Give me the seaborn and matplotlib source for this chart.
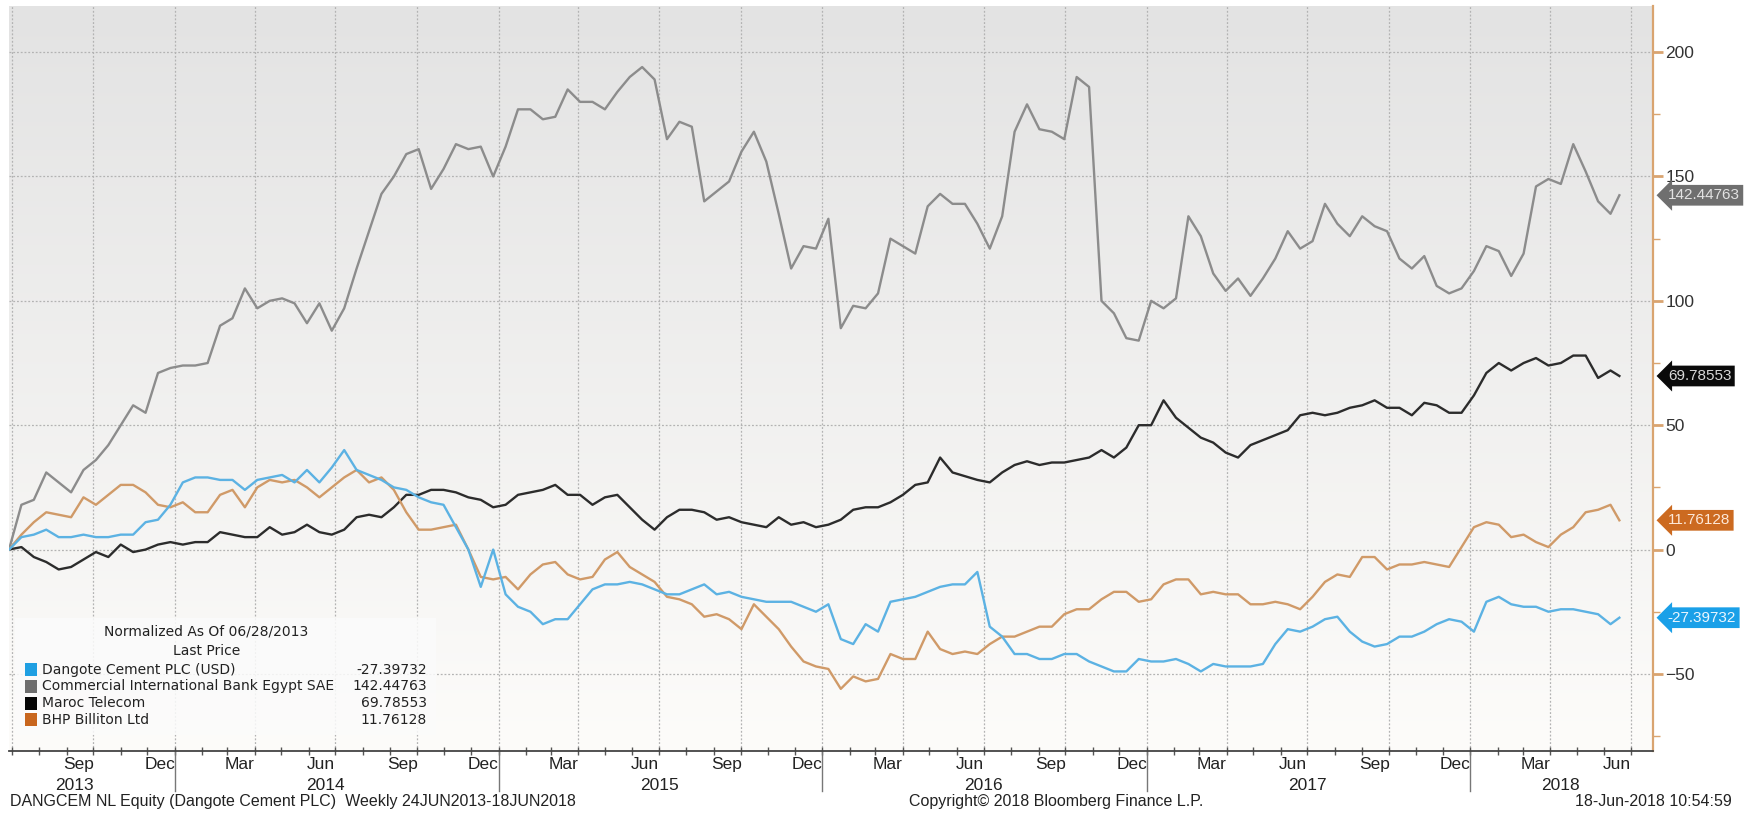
import matplotlib
matplotlib.use('Agg')
import matplotlib.pyplot as plt
import matplotlib.dates as mdates
import matplotlib.transforms as mtransforms
from matplotlib.colors import LinearSegmentedColormap
from matplotlib.patches import Rectangle
import numpy as np
import pandas as pd
import seaborn as sns

# series names and last values (legend order)
series_names = ['Dangote Cement PLC (USD)', 'Commercial International Bank Egypt SAE',
                'Maroc Telecom', 'BHP Billiton Ltd']
last_values = [-27.39732, 142.44763, 69.78553, 11.76128]

# normalized values, every two weeks from 28 Jun 2013, last point 18 Jun 2018
dangote = [0, 5, 6, 8, 5, 5, 6, 5, 5, 6, 6, 11, 12, 18, 27, 29, 29, 28, 28, 24,
           28, 29, 30, 27, 32, 27, 33, 40, 32, 30, 28, 25, 24, 21, 19, 18, 9, 0, -15, 0,
           -18, -23, -25, -30, -28, -28, -22, -16, -14, -14, -13, -14, -16, -18, -18, -16, -14, -18, -17, -19,
           -20, -21, -21, -21, -23, -25, -22, -36, -38, -30, -33, -21, -20, -19, -17, -15, -14, -14, -9, -31,
           -35, -42, -42, -44, -44, -42, -42, -45, -47, -49, -49, -44, -45, -45, -44, -46, -49, -46, -47, -47,
           -47, -46, -38, -32, -33, -31, -28, -27, -33, -37, -39, -38, -35, -35, -33, -30, -28, -29, -33, -21,
           -19, -22, -23, -23, -25, -24, -24, -25, -26, -30, -27.39732]
cib = [0, 18, 20, 31, 27, 23, 32, 36, 42, 50, 58, 55, 71, 73, 74, 74, 75, 90, 93, 105,
       97, 100, 101, 99, 91, 99, 88, 97, 113, 128, 143, 150, 159, 161, 145, 153, 163, 161, 162, 150,
       162, 177, 177, 173, 174, 185, 180, 180, 177, 184, 190, 194, 189, 165, 172, 170, 140, 144, 148, 160,
       168, 156, 135, 113, 122, 121, 133, 89, 98, 97, 103, 125, 122, 119, 138, 143, 139, 139, 131, 121,
       134, 168, 179, 169, 168, 165, 190, 186, 100, 95, 85, 84, 100, 97, 101, 134, 126, 111, 104, 109,
       102, 109, 117, 128, 121, 124, 139, 131, 126, 134, 130, 128, 117, 113, 118, 106, 103, 105, 112, 122,
       120, 110, 119, 146, 149, 147, 163, 152, 140, 135, 142.44763]
maroc = [0, 1, -3, -5, -8, -7, -4, -1, -3, 2, -1, 0, 2, 3, 2, 3, 3, 7, 6, 5,
         5, 9, 6, 7, 10, 7, 6, 8, 13, 14, 13, 17, 22, 22, 24, 24, 23, 21, 20, 17,
         18, 22, 23, 24, 26, 22, 22, 18, 21, 22, 17, 12, 8, 13, 16, 16, 15, 12, 13, 11,
         10, 9, 13, 10, 11, 9, 10, 12, 16, 17, 17, 19, 22, 26, 27, 37, 31, 29.5, 28, 27,
         31, 34, 35.5, 34, 35, 35, 36, 37, 40, 37, 41, 50, 50, 60, 53, 49, 45, 43, 39, 37,
         42, 44, 46, 48, 54, 55, 54, 55, 57, 58, 60, 57, 57, 54, 59, 58, 55, 55, 62, 71,
         75, 72, 75, 77, 74, 75, 78, 78, 69, 72, 69.78553]
bhp = [0, 6, 11, 15, 14, 13, 21, 18, 22, 26, 26, 23, 18, 17, 19, 15, 15, 22, 24, 17,
       25, 28, 27, 28, 25, 21, 25, 29, 32, 27, 29, 24, 15, 8, 8, 9, 10, 0, -11, -12,
       -11, -16, -10, -6, -5, -10, -12, -11, -4, -1, -7, -10, -13, -19, -20, -22, -27, -26, -28, -32,
       -22, -27, -32, -39, -45, -47, -48, -56, -51, -53, -52, -42, -44, -44, -33, -40, -42, -41, -42, -38,
       -35, -35, -33, -31, -31, -26, -24, -24, -20, -17, -17, -21, -20, -14, -12, -12, -18, -17, -18, -18,
       -22, -22, -21, -22, -24, -19, -13, -10, -11, -3, -3, -8, -6, -6, -5, -6, -7, 1, 9, 11,
       10, 5, 6, 3, 1, 6, 9, 15, 16, 18, 11.76128]

dates = pd.date_range('2013-06-28', periods=130, freq='14D').append(pd.DatetimeIndex(['2018-06-18']))

line_colors = ['#5cb2e3', '#8c8c8c', '#2c2c2c', '#d09a68']
swatch_colors = ['#1f9fe2', '#6e6e6e', '#050505', '#c8661e']
tag_colors = ['#1aa0e8', '#6f6f6f', '#0a0a0a', '#cc6a20']
tag_text = ['#eaf6ff', '#e2e2e2', '#d8d8d8', '#fde8d8']

values = [dangote, cib, maroc, bhp]
df = pd.concat([pd.DataFrame({'date': dates, 'value': v, 'series': n})
                for n, v in zip(series_names, values)], ignore_index=True)

narrow = ['Liberation Sans', 'DejaVu Sans']

fig = plt.figure(figsize=(17.49, 8.15), dpi=100)
ax = fig.add_axes([0.00515, 0.0785, 0.940, 0.914])

# background gradient
cmap = LinearSegmentedColormap.from_list('bg', ['#e3e3e3', '#fdfcfa'])
ax.imshow(np.linspace(0, 1, 256).reshape(-1, 1), cmap=cmap, aspect='auto',
          extent=[0, 1, 0, 1], transform=ax.transAxes, zorder=0)

# grid
for q in pd.date_range('2013-07-01', '2018-07-01', freq='QS'):
    ax.axvline(q, color='#b3b3b3', lw=0.9, ls=(0, (1.5, 1.5)), zorder=1)
for yv in range(-50, 201, 50):
    ax.axhline(yv, color='#b3b3b3', lw=0.9, ls=(0, (1.5, 1.5)), zorder=1)

hue_order = [series_names[1], series_names[2], series_names[3], series_names[0]]
palette = dict(zip(series_names, line_colors))
sns.lineplot(data=df, x='date', y='value', hue='series', hue_order=hue_order,
             palette=palette, legend=False, lw=1.7, ax=ax, zorder=3)

ax.set_xlim(pd.Timestamp('2013-06-28'), pd.Timestamp('2018-07-26'))
ax.set_ylim(-81, 218.5)
ax.set_xlabel('')
ax.set_ylabel('')

# right axis
ax.yaxis.tick_right()
ax.set_yticks(range(-50, 201, 50))
ax.set_yticks([-75, -25, 25, 75, 125, 175], minor=True)
ax.tick_params(axis='y', which='major', direction='out', length=7, width=2,
               color='#d9a470', labelcolor='#333333', labelsize=12.5, pad=2)
ax.tick_params(axis='y', which='minor', direction='out', length=5, width=1,
               color='#d9a470')
for lab in ax.get_yticklabels():
    lab.set_family(narrow)

# bottom axis
month_ticks = pd.date_range('2013-09-01', '2018-06-01', freq='3MS') + pd.Timedelta(days=14)
month_names = [d.strftime('%b') for d in month_ticks]
ax.set_xticks(month_ticks)
ax.set_xticklabels(month_names, family=narrow, fontsize=12.5, color='#222222')
ax.xaxis.set_minor_locator(mdates.MonthLocator())
ax.tick_params(axis='x', which='major', length=0, pad=4)
ax.tick_params(axis='x', which='minor', direction='inout', length=6, width=1, color='#555555')

for s in ['top', 'left']:
    ax.spines[s].set_visible(False)
ax.spines['right'].set_color('#d9a470')
ax.spines['right'].set_linewidth(1.6)
ax.spines['bottom'].set_color('#444444')
ax.spines['bottom'].set_linewidth(1.3)

# year separators and labels
xtrans = mtransforms.blended_transform_factory(ax.transData, ax.transAxes)
for yd in pd.to_datetime(['2014-01-01', '2015-01-01', '2016-01-01', '2017-01-01', '2018-01-01']):
    ax.plot([yd, yd], [0, -0.053], transform=xtrans, color='#777777', lw=1, clip_on=False)
year_pos = pd.to_datetime(['2013-09-10', '2014-06-20', '2015-07-01', '2016-07-01', '2017-07-01', '2018-04-12'])
year_lab = ['2013', '2014', '2015', '2016', '2017', '2018']
for d, t in zip(year_pos, year_lab):
    ax.text(d, -0.046, t, transform=xtrans, ha='center', va='center',
            family=narrow, fontsize=12.5, color='#222222')

# value tags on the right
ytrans = mtransforms.blended_transform_factory(ax.transAxes, ax.transData)
for v, c, tc in zip(last_values, tag_colors, tag_text):
    ax.text(1.009, v, f'{v:.5f}', transform=ytrans, ha='left', va='center',
            fontsize=11, color=tc, family=narrow,
            bbox=dict(boxstyle='larrow,pad=0.22', fc=c, ec='none'), zorder=6, clip_on=False)

# legend block
ax.add_patch(Rectangle((0.0036, 0.021), 0.256, 0.157, transform=ax.transAxes,
                       fc='#fbfbfb', ec='none', alpha=0.85, zorder=4))
ax.text(0.120, 0.160, 'Normalized As Of 06/28/2013', transform=ax.transAxes,
        ha='center', va='center', fontsize=10, color='#222222', zorder=5)
ax.text(0.120, 0.134, 'Last Price', transform=ax.transAxes,
        ha='center', va='center', fontsize=10, color='#222222', zorder=5)
row_y = [0.109, 0.087, 0.064, 0.042]
for yy, n, v, c in zip(row_y, series_names, last_values, swatch_colors):
    ax.add_patch(Rectangle((0.0097, yy - 0.0085), 0.0073, 0.017, transform=ax.transAxes,
                           fc=c, ec='none', zorder=5))
    ax.text(0.020, yy, n, transform=ax.transAxes, ha='left', va='center',
            fontsize=10, color='#222222', zorder=5)
    ax.text(0.254, yy, f'{v:.5f}', transform=ax.transAxes, ha='right', va='center',
            fontsize=10, color='#222222', zorder=5)

# footer
fig.text(0.006, 0.017, 'DANGCEM NL Equity (Dangote Cement PLC)  Weekly 24JUN2013-18JUN2018',
         ha='left', va='center', family=narrow, fontsize=11.5, color='#222222')
fig.text(0.604, 0.017, 'Copyright\u00a9 2018 Bloomberg Finance L.P.',
         ha='center', va='center', family=narrow, fontsize=11.5, color='#222222')
fig.text(0.990, 0.017, '18-Jun-2018 10:54:59',
         ha='right', va='center', family=narrow, fontsize=11.5, color='#222222')

fig.savefig('out.png', dpi=100, facecolor='white')
